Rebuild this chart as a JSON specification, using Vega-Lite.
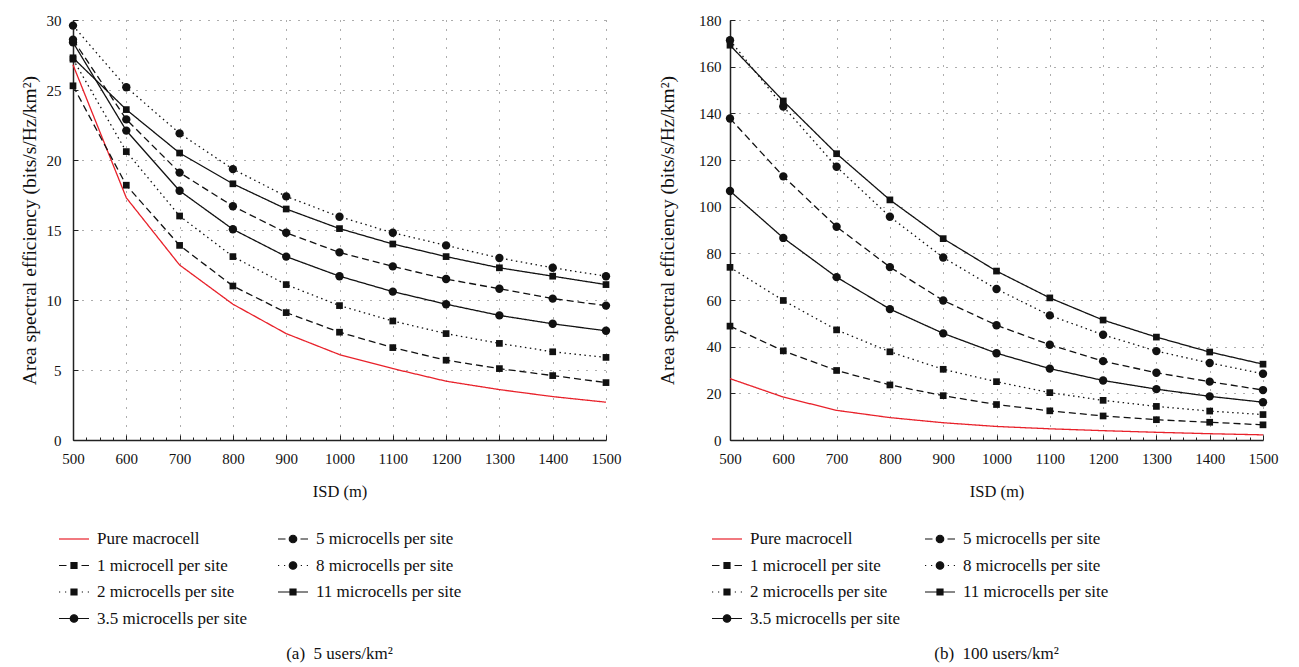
{
  "$schema": "https://vega.github.io/schema/vega-lite/v6.json",
  "padding": {"left": 19, "top": 13, "right": 5, "bottom": 5},
  "background": "white",
  "config": {
    "font": "Liberation Serif",
    "view": {"stroke": null},
    "axis": {
      "labelFont": "Liberation Serif", "titleFont": "Liberation Serif",
      "labelFontSize": 15, "titleFontSize": 16.5, "titleFontWeight": "normal",
      "labelColor": "#111", "titleColor": "#111",
      "domainColor": "#222", "domainWidth": 1.5, "tickColor": "#222",
      "gridColor": "#333", "gridDash": [1, 8], "gridWidth": 1
    },
    "legend": {"labelFont": "Liberation Serif", "labelFontSize": 17, "labelColor": "#111"},
    "title": {"font": "Liberation Serif", "fontSize": 17, "fontWeight": "normal", "color": "#111"}
  },
  "datasets": {
    "a": [
      {"isd": 500, "ase": 26.8, "s": "Pure macrocell"}, {"isd": 600, "ase": 17.3, "s": "Pure macrocell"}, {"isd": 700, "ase": 12.5, "s": "Pure macrocell"}, {"isd": 800, "ase": 9.7, "s": "Pure macrocell"}, {"isd": 900, "ase": 7.6, "s": "Pure macrocell"}, {"isd": 1000, "ase": 6.1, "s": "Pure macrocell"}, {"isd": 1100, "ase": 5.1, "s": "Pure macrocell"}, {"isd": 1200, "ase": 4.2, "s": "Pure macrocell"}, {"isd": 1300, "ase": 3.6, "s": "Pure macrocell"}, {"isd": 1400, "ase": 3.1, "s": "Pure macrocell"}, {"isd": 1500, "ase": 2.7, "s": "Pure macrocell"},
      {"isd": 500, "ase": 25.3, "s": "1 microcell per site"}, {"isd": 600, "ase": 18.2, "s": "1 microcell per site"}, {"isd": 700, "ase": 13.9, "s": "1 microcell per site"}, {"isd": 800, "ase": 11.0, "s": "1 microcell per site"}, {"isd": 900, "ase": 9.1, "s": "1 microcell per site"}, {"isd": 1000, "ase": 7.7, "s": "1 microcell per site"}, {"isd": 1100, "ase": 6.6, "s": "1 microcell per site"}, {"isd": 1200, "ase": 5.7, "s": "1 microcell per site"}, {"isd": 1300, "ase": 5.1, "s": "1 microcell per site"}, {"isd": 1400, "ase": 4.6, "s": "1 microcell per site"}, {"isd": 1500, "ase": 4.1, "s": "1 microcell per site"},
      {"isd": 500, "ase": 27.2, "s": "2 microcells per site"}, {"isd": 600, "ase": 20.6, "s": "2 microcells per site"}, {"isd": 700, "ase": 16.0, "s": "2 microcells per site"}, {"isd": 800, "ase": 13.1, "s": "2 microcells per site"}, {"isd": 900, "ase": 11.1, "s": "2 microcells per site"}, {"isd": 1000, "ase": 9.6, "s": "2 microcells per site"}, {"isd": 1100, "ase": 8.5, "s": "2 microcells per site"}, {"isd": 1200, "ase": 7.6, "s": "2 microcells per site"}, {"isd": 1300, "ase": 6.9, "s": "2 microcells per site"}, {"isd": 1400, "ase": 6.3, "s": "2 microcells per site"}, {"isd": 1500, "ase": 5.9, "s": "2 microcells per site"},
      {"isd": 500, "ase": 28.4, "s": "3.5 microcells per site"}, {"isd": 600, "ase": 22.1, "s": "3.5 microcells per site"}, {"isd": 700, "ase": 17.8, "s": "3.5 microcells per site"}, {"isd": 800, "ase": 15.05, "s": "3.5 microcells per site"}, {"isd": 900, "ase": 13.1, "s": "3.5 microcells per site"}, {"isd": 1000, "ase": 11.7, "s": "3.5 microcells per site"}, {"isd": 1100, "ase": 10.6, "s": "3.5 microcells per site"}, {"isd": 1200, "ase": 9.7, "s": "3.5 microcells per site"}, {"isd": 1300, "ase": 8.9, "s": "3.5 microcells per site"}, {"isd": 1400, "ase": 8.3, "s": "3.5 microcells per site"}, {"isd": 1500, "ase": 7.8, "s": "3.5 microcells per site"},
      {"isd": 500, "ase": 28.6, "s": "5 microcells per site"}, {"isd": 600, "ase": 22.9, "s": "5 microcells per site"}, {"isd": 700, "ase": 19.1, "s": "5 microcells per site"}, {"isd": 800, "ase": 16.7, "s": "5 microcells per site"}, {"isd": 900, "ase": 14.8, "s": "5 microcells per site"}, {"isd": 1000, "ase": 13.4, "s": "5 microcells per site"}, {"isd": 1100, "ase": 12.4, "s": "5 microcells per site"}, {"isd": 1200, "ase": 11.5, "s": "5 microcells per site"}, {"isd": 1300, "ase": 10.8, "s": "5 microcells per site"}, {"isd": 1400, "ase": 10.1, "s": "5 microcells per site"}, {"isd": 1500, "ase": 9.6, "s": "5 microcells per site"},
      {"isd": 500, "ase": 29.6, "s": "8 microcells per site"}, {"isd": 600, "ase": 25.2, "s": "8 microcells per site"}, {"isd": 700, "ase": 21.9, "s": "8 microcells per site"}, {"isd": 800, "ase": 19.35, "s": "8 microcells per site"}, {"isd": 900, "ase": 17.4, "s": "8 microcells per site"}, {"isd": 1000, "ase": 15.95, "s": "8 microcells per site"}, {"isd": 1100, "ase": 14.8, "s": "8 microcells per site"}, {"isd": 1200, "ase": 13.9, "s": "8 microcells per site"}, {"isd": 1300, "ase": 13.0, "s": "8 microcells per site"}, {"isd": 1400, "ase": 12.3, "s": "8 microcells per site"}, {"isd": 1500, "ase": 11.7, "s": "8 microcells per site"},
      {"isd": 500, "ase": 27.3, "s": "11 microcells per site"}, {"isd": 600, "ase": 23.6, "s": "11 microcells per site"}, {"isd": 700, "ase": 20.5, "s": "11 microcells per site"}, {"isd": 800, "ase": 18.3, "s": "11 microcells per site"}, {"isd": 900, "ase": 16.5, "s": "11 microcells per site"}, {"isd": 1000, "ase": 15.1, "s": "11 microcells per site"}, {"isd": 1100, "ase": 14.0, "s": "11 microcells per site"}, {"isd": 1200, "ase": 13.1, "s": "11 microcells per site"}, {"isd": 1300, "ase": 12.3, "s": "11 microcells per site"}, {"isd": 1400, "ase": 11.7, "s": "11 microcells per site"}, {"isd": 1500, "ase": 11.1, "s": "11 microcells per site"}
    ],
    "b": [
      {"isd": 500, "ase": 26.3, "s": "Pure macrocell"}, {"isd": 600, "ase": 18.4, "s": "Pure macrocell"}, {"isd": 700, "ase": 12.7, "s": "Pure macrocell"}, {"isd": 800, "ase": 9.6, "s": "Pure macrocell"}, {"isd": 900, "ase": 7.4, "s": "Pure macrocell"}, {"isd": 1000, "ase": 5.8, "s": "Pure macrocell"}, {"isd": 1100, "ase": 4.8, "s": "Pure macrocell"}, {"isd": 1200, "ase": 4.0, "s": "Pure macrocell"}, {"isd": 1300, "ase": 3.3, "s": "Pure macrocell"}, {"isd": 1400, "ase": 2.7, "s": "Pure macrocell"}, {"isd": 1500, "ase": 2.2, "s": "Pure macrocell"},
      {"isd": 500, "ase": 48.8, "s": "1 microcell per site"}, {"isd": 600, "ase": 38.2, "s": "1 microcell per site"}, {"isd": 700, "ase": 29.8, "s": "1 microcell per site"}, {"isd": 800, "ase": 23.6, "s": "1 microcell per site"}, {"isd": 900, "ase": 19.0, "s": "1 microcell per site"}, {"isd": 1000, "ase": 15.2, "s": "1 microcell per site"}, {"isd": 1100, "ase": 12.5, "s": "1 microcell per site"}, {"isd": 1200, "ase": 10.3, "s": "1 microcell per site"}, {"isd": 1300, "ase": 8.7, "s": "1 microcell per site"}, {"isd": 1400, "ase": 7.6, "s": "1 microcell per site"}, {"isd": 1500, "ase": 6.5, "s": "1 microcell per site"},
      {"isd": 500, "ase": 74.0, "s": "2 microcells per site"}, {"isd": 600, "ase": 59.8, "s": "2 microcells per site"}, {"isd": 700, "ase": 47.2, "s": "2 microcells per site"}, {"isd": 800, "ase": 37.8, "s": "2 microcells per site"}, {"isd": 900, "ase": 30.3, "s": "2 microcells per site"}, {"isd": 1000, "ase": 25.0, "s": "2 microcells per site"}, {"isd": 1100, "ase": 20.3, "s": "2 microcells per site"}, {"isd": 1200, "ase": 17.0, "s": "2 microcells per site"}, {"isd": 1300, "ase": 14.4, "s": "2 microcells per site"}, {"isd": 1400, "ase": 12.4, "s": "2 microcells per site"}, {"isd": 1500, "ase": 10.9, "s": "2 microcells per site"},
      {"isd": 500, "ase": 106.7, "s": "3.5 microcells per site"}, {"isd": 600, "ase": 86.6, "s": "3.5 microcells per site"}, {"isd": 700, "ase": 69.8, "s": "3.5 microcells per site"}, {"isd": 800, "ase": 56.1, "s": "3.5 microcells per site"}, {"isd": 900, "ase": 45.7, "s": "3.5 microcells per site"}, {"isd": 1000, "ase": 37.2, "s": "3.5 microcells per site"}, {"isd": 1100, "ase": 30.6, "s": "3.5 microcells per site"}, {"isd": 1200, "ase": 25.5, "s": "3.5 microcells per site"}, {"isd": 1300, "ase": 21.8, "s": "3.5 microcells per site"}, {"isd": 1400, "ase": 18.7, "s": "3.5 microcells per site"}, {"isd": 1500, "ase": 16.2, "s": "3.5 microcells per site"},
      {"isd": 500, "ase": 137.8, "s": "5 microcells per site"}, {"isd": 600, "ase": 113.0, "s": "5 microcells per site"}, {"isd": 700, "ase": 91.4, "s": "5 microcells per site"}, {"isd": 800, "ase": 74.1, "s": "5 microcells per site"}, {"isd": 900, "ase": 59.8, "s": "5 microcells per site"}, {"isd": 1000, "ase": 49.2, "s": "5 microcells per site"}, {"isd": 1100, "ase": 40.8, "s": "5 microcells per site"}, {"isd": 1200, "ase": 33.8, "s": "5 microcells per site"}, {"isd": 1300, "ase": 28.8, "s": "5 microcells per site"}, {"isd": 1400, "ase": 25.0, "s": "5 microcells per site"}, {"isd": 1500, "ase": 21.4, "s": "5 microcells per site"},
      {"isd": 500, "ase": 171.3, "s": "8 microcells per site"}, {"isd": 600, "ase": 142.9, "s": "8 microcells per site"}, {"isd": 700, "ase": 117.1, "s": "8 microcells per site"}, {"isd": 800, "ase": 95.7, "s": "8 microcells per site"}, {"isd": 900, "ase": 78.2, "s": "8 microcells per site"}, {"isd": 1000, "ase": 64.7, "s": "8 microcells per site"}, {"isd": 1100, "ase": 53.4, "s": "8 microcells per site"}, {"isd": 1200, "ase": 45.1, "s": "8 microcells per site"}, {"isd": 1300, "ase": 38.1, "s": "8 microcells per site"}, {"isd": 1400, "ase": 33.0, "s": "8 microcells per site"}, {"isd": 1500, "ase": 28.4, "s": "8 microcells per site"},
      {"isd": 500, "ase": 169.2, "s": "11 microcells per site"}, {"isd": 600, "ase": 145.3, "s": "11 microcells per site"}, {"isd": 700, "ase": 122.7, "s": "11 microcells per site"}, {"isd": 800, "ase": 102.9, "s": "11 microcells per site"}, {"isd": 900, "ase": 86.3, "s": "11 microcells per site"}, {"isd": 1000, "ase": 72.4, "s": "11 microcells per site"}, {"isd": 1100, "ase": 60.9, "s": "11 microcells per site"}, {"isd": 1200, "ase": 51.4, "s": "11 microcells per site"}, {"isd": 1300, "ase": 44.1, "s": "11 microcells per site"}, {"isd": 1400, "ase": 37.7, "s": "11 microcells per site"}, {"isd": 1500, "ase": 32.5, "s": "11 microcells per site"}
    ]
  },
  "resolve": {
    "scale": {"x": "independent", "y": "independent", "color": "independent", "fill": "independent", "stroke": "independent", "shape": "independent", "strokeDash": "independent"},
    "legend": {"color": "independent", "fill": "independent", "stroke": "independent", "shape": "independent", "strokeDash": "independent"}
  },
  "spacing": 36,
  "hconcat": [
    {
      "width": 533, "height": 420,
      "data": {"name": "a"},
      "title": {"text": "(a)\u00a0\u00a05 users/km²", "orient": "bottom", "anchor": "middle", "frame": "group", "offset": 19},
      "encoding": {
        "x": {"field": "isd", "type": "quantitative", "scale": {"domain": [500, 1500], "nice": false, "zero": false},
          "axis": {"title": "ISD (m)", "format": "d", "values": [500,525,550,575,600,625,650,675,700,725,750,775,800,825,850,875,900,925,950,975,1000,1025,1050,1075,1100,1125,1150,1175,1200,1225,1250,1275,1300,1325,1350,1375,1400,1425,1450,1475,1500],
            "labelExpr": "datum.value % 100 === 0 ? datum.label : ''", "labelOverlap": false, "labelFlush": false, "labelPadding": 16, "titlePadding": 15,
            "tickSize": {"condition": {"test": "datum.value % 100 === 0", "value": -5}, "value": -3},
            "gridOpacity": {"condition": {"test": "datum.value % 100 === 0", "value": 0.8}, "value": 0}}},
        "y": {"field": "ase", "type": "quantitative", "scale": {"domain": [0, 30], "nice": false},
          "axis": {"title": "Area spectral efficiency (bits/s/Hz/km²)", "titleFontSize": 19.5, "values": [0,5,10,15,20,25,30], "tickSize": -5, "labelPadding": 17, "titlePadding": 7, "gridOpacity": 0.8}}
      },
      "layer": [
        {"mark": {"type": "line", "strokeWidth": 1.3},
          "encoding": {
            "color": {"field": "s", "type": "nominal", "legend": null, "scale": {"domain": ["1 microcell per site","2 microcells per site","3.5 microcells per site","5 microcells per site","8 microcells per site","11 microcells per site","Pure macrocell"], "range": ["#111","#111","#111","#111","#111","#111","#e8212a"]}},
            "strokeDash": {"field": "s", "type": "nominal", "legend": null, "scale": {"domain": ["11 microcells per site","1 microcell per site","2 microcells per site","3.5 microcells per site","5 microcells per site","8 microcells per site","Pure macrocell"], "range": [[1,0],[7,4],[1.5,3.5],[1,0],[7,4],[1.5,3.5],[1,0]]}}
          }},
        {"transform": [{"filter": {"field": "s", "oneOf": ["3.5 microcells per site","5 microcells per site","8 microcells per site"]}}],
          "mark": {"type": "point", "shape": "circle", "filled": true, "color": "#111", "size": 70, "opacity": 1}},
        {"transform": [{"filter": {"field": "s", "oneOf": ["1 microcell per site","2 microcells per site","11 microcells per site"]}}],
          "mark": {"type": "point", "shape": "square", "filled": true, "color": "#111", "size": 45, "opacity": 1}},
        {"transform": [{"filter": {"field": "s", "equal": "none"}}],
          "mark": {"type": "point", "filled": true, "opacity": 1, "size": 900, "strokeWidth": 1.2},
          "encoding": {
            "shape": {"field": "s", "type": "nominal",
              "scale": {"domain": ["Pure macrocell","1 microcell per site","2 microcells per site","3.5 microcells per site","5 microcells per site","8 microcells per site","11 microcells per site"],
                "range": ["M-1,0H1", "M-1,0H-0.5M0.5,0H1M-0.2,-0.2H0.2V0.2H-0.2Z", "M-1,0H-0.92M-0.6,0H-0.52M0.52,0H0.6M0.92,0H1M-0.2,-0.2H0.2V0.2H-0.2Z", "M-1,0H1M-0.25,0A0.25,0.25,0,1,0,0.25,0A0.25,0.25,0,1,0,-0.25,0Z", "M-1,0H-0.5M0.5,0H1M-0.25,0A0.25,0.25,0,1,0,0.25,0A0.25,0.25,0,1,0,-0.25,0Z", "M-1,0H-0.92M-0.6,0H-0.52M0.52,0H0.6M0.92,0H1M-0.25,0A0.25,0.25,0,1,0,0.25,0A0.25,0.25,0,1,0,-0.25,0Z", "M-1,0H1M-0.2,-0.2H0.2V0.2H-0.2Z"]},
              "legend": {"title": null, "orient": "none", "legendX": -15, "legendY": 503, "columns": 2, "symbolSize": 900, "symbolStrokeWidth": 1.2, "labelOffset": 7, "rowPadding": 2.5, "columnPadding": 27, "labelLimit": 300}},
            "fill": {"field": "s", "type": "nominal",
              "scale": {"domain": ["Pure macrocell","1 microcell per site","2 microcells per site","3.5 microcells per site","5 microcells per site","8 microcells per site","11 microcells per site"], "range": ["#e8212a","#111","#111","#111","#111","#111","#111"]},
              "legend": {"title": null, "orient": "none", "legendX": -15, "legendY": 503, "columns": 2, "symbolSize": 900, "symbolStrokeWidth": 1.2, "labelOffset": 7, "rowPadding": 2.5, "columnPadding": 27, "labelLimit": 300}},
            "stroke": {"field": "s", "type": "nominal",
              "scale": {"domain": ["Pure macrocell","1 microcell per site","2 microcells per site","3.5 microcells per site","5 microcells per site","8 microcells per site","11 microcells per site"], "range": ["#e8212a","#111","#111","#111","#111","#111","#111"]},
              "legend": {"title": null, "orient": "none", "legendX": -15, "legendY": 503, "columns": 2, "symbolSize": 900, "symbolStrokeWidth": 1.2, "labelOffset": 7, "rowPadding": 2.5, "columnPadding": 27, "labelLimit": 300}}
          }}
      ]
    },
    {
      "width": 533, "height": 420,
      "data": {"name": "b"},
      "title": {"text": "(b)\u00a0\u00a0100 users/km²", "orient": "bottom", "anchor": "middle", "frame": "group", "offset": 19},
      "encoding": {
        "x": {"field": "isd", "type": "quantitative", "scale": {"domain": [500, 1500], "nice": false, "zero": false},
          "axis": {"title": "ISD (m)", "format": "d", "values": [500,525,550,575,600,625,650,675,700,725,750,775,800,825,850,875,900,925,950,975,1000,1025,1050,1075,1100,1125,1150,1175,1200,1225,1250,1275,1300,1325,1350,1375,1400,1425,1450,1475,1500],
            "labelExpr": "datum.value % 100 === 0 ? datum.label : ''", "labelOverlap": false, "labelFlush": false, "labelPadding": 16, "titlePadding": 15,
            "tickSize": {"condition": {"test": "datum.value % 100 === 0", "value": -5}, "value": -3},
            "gridOpacity": {"condition": {"test": "datum.value % 100 === 0", "value": 0.8}, "value": 0}}},
        "y": {"field": "ase", "type": "quantitative", "scale": {"domain": [0, 180], "nice": false},
          "axis": {"title": "Area spectral efficiency (bits/s/Hz/km²)", "titleFontSize": 19.5, "values": [0,20,40,60,80,100,120,140,160,180], "tickSize": -5, "labelPadding": 14, "titlePadding": 21, "gridOpacity": 0.8}}
      },
      "layer": [
        {"mark": {"type": "line", "strokeWidth": 1.3},
          "encoding": {
            "color": {"field": "s", "type": "nominal", "legend": null, "scale": {"domain": ["1 microcell per site","2 microcells per site","3.5 microcells per site","5 microcells per site","8 microcells per site","11 microcells per site","Pure macrocell"], "range": ["#111","#111","#111","#111","#111","#111","#e8212a"]}},
            "strokeDash": {"field": "s", "type": "nominal", "legend": null, "scale": {"domain": ["11 microcells per site","1 microcell per site","2 microcells per site","3.5 microcells per site","5 microcells per site","8 microcells per site","Pure macrocell"], "range": [[1,0],[7,4],[1.5,3.5],[1,0],[7,4],[1.5,3.5],[1,0]]}}
          }},
        {"transform": [{"filter": {"field": "s", "oneOf": ["3.5 microcells per site","5 microcells per site","8 microcells per site"]}}],
          "mark": {"type": "point", "shape": "circle", "filled": true, "color": "#111", "size": 70, "opacity": 1}},
        {"transform": [{"filter": {"field": "s", "oneOf": ["1 microcell per site","2 microcells per site","11 microcells per site"]}}],
          "mark": {"type": "point", "shape": "square", "filled": true, "color": "#111", "size": 45, "opacity": 1}},
        {"transform": [{"filter": {"field": "s", "equal": "none"}}],
          "mark": {"type": "point", "filled": true, "opacity": 1, "size": 900, "strokeWidth": 1.2},
          "encoding": {
            "shape": {"field": "s", "type": "nominal",
              "scale": {"domain": ["Pure macrocell","1 microcell per site","2 microcells per site","3.5 microcells per site","5 microcells per site","8 microcells per site","11 microcells per site"],
                "range": ["M-1,0H1", "M-1,0H-0.5M0.5,0H1M-0.2,-0.2H0.2V0.2H-0.2Z", "M-1,0H-0.92M-0.6,0H-0.52M0.52,0H0.6M0.92,0H1M-0.2,-0.2H0.2V0.2H-0.2Z", "M-1,0H1M-0.25,0A0.25,0.25,0,1,0,0.25,0A0.25,0.25,0,1,0,-0.25,0Z", "M-1,0H-0.5M0.5,0H1M-0.25,0A0.25,0.25,0,1,0,0.25,0A0.25,0.25,0,1,0,-0.25,0Z", "M-1,0H-0.92M-0.6,0H-0.52M0.52,0H0.6M0.92,0H1M-0.25,0A0.25,0.25,0,1,0,0.25,0A0.25,0.25,0,1,0,-0.25,0Z", "M-1,0H1M-0.2,-0.2H0.2V0.2H-0.2Z"]},
              "legend": {"title": null, "orient": "none", "legendX": -19, "legendY": 503, "columns": 2, "symbolSize": 900, "symbolStrokeWidth": 1.2, "labelOffset": 7, "rowPadding": 2.5, "columnPadding": 21, "labelLimit": 300}},
            "fill": {"field": "s", "type": "nominal",
              "scale": {"domain": ["Pure macrocell","1 microcell per site","2 microcells per site","3.5 microcells per site","5 microcells per site","8 microcells per site","11 microcells per site"], "range": ["#e8212a","#111","#111","#111","#111","#111","#111"]},
              "legend": {"title": null, "orient": "none", "legendX": -19, "legendY": 503, "columns": 2, "symbolSize": 900, "symbolStrokeWidth": 1.2, "labelOffset": 7, "rowPadding": 2.5, "columnPadding": 21, "labelLimit": 300}},
            "stroke": {"field": "s", "type": "nominal",
              "scale": {"domain": ["Pure macrocell","1 microcell per site","2 microcells per site","3.5 microcells per site","5 microcells per site","8 microcells per site","11 microcells per site"], "range": ["#e8212a","#111","#111","#111","#111","#111","#111"]},
              "legend": {"title": null, "orient": "none", "legendX": -19, "legendY": 503, "columns": 2, "symbolSize": 900, "symbolStrokeWidth": 1.2, "labelOffset": 7, "rowPadding": 2.5, "columnPadding": 21, "labelLimit": 300}}
          }}
      ]
    }
  ]
}
